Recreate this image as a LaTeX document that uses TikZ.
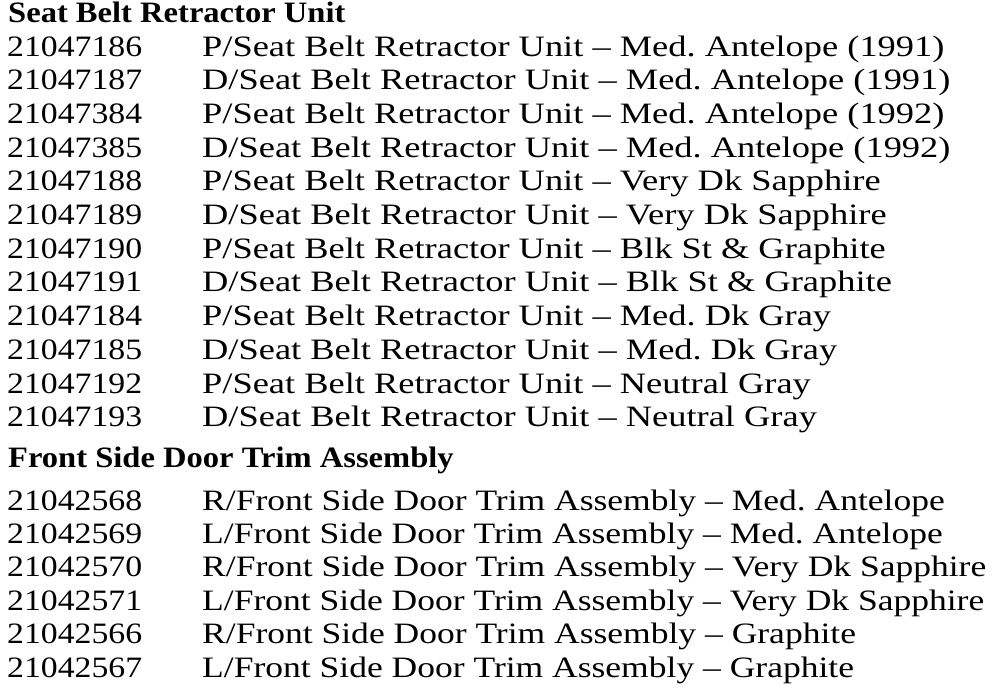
\documentclass[tikz,border=0pt]{standalone}
\usepackage{fontspec}
\setmainfont{Liberation Serif}[FakeStretch=1.14]
\newfontfamily\headfont{Liberation Serif}[FakeStretch=1.1,Ligatures=TeX]
\newfontfamily\beltfont{Liberation Serif}[FakeStretch=1.23,Ligatures=TeX]
\newfontfamily\doorfont{Liberation Serif}[FakeStretch=1.2,Ligatures=TeX]
\frenchspacing
\begin{document}
\begin{tikzpicture}[x=1pt,y=-1pt,
	head/.style={anchor=base west,inner sep=0pt,font=\fontsize{29.6}{30}\headfont\bfseries},
	partno/.style={anchor=base west,inner sep=0pt,font=\fontsize{29.6}{30}\selectfont},
	beltname/.style={anchor=base west,inner sep=0pt,font=\fontsize{29.6}{30}\beltfont},
	doorname/.style={anchor=base west,inner sep=0pt,font=\fontsize{29.6}{30}\doorfont}]
	\useasboundingbox[fill=white] (0,0) rectangle (1008,694);
	% Seat belt retractor units
	\node[head] (belt) at (8,22) {Seat Belt Retractor Unit};
	\node[partno] (b1) at (7,56) {21047186};
	\node[beltname] (bn1) at (202,56) {P/Seat Belt Retractor Unit -- Med. Antelope (1991)};
	\node[partno] (b2) at (7,89.7) {21047187};
	\node[beltname] (bn2) at (202,89.7) {D/Seat Belt Retractor Unit -- Med. Antelope (1991)};
	\node[partno] (b3) at (7,123.4) {21047384};
	\node[beltname] (bn3) at (202,123.4) {P/Seat Belt Retractor Unit -- Med. Antelope (1992)};
	\node[partno] (b4) at (7,157.1) {21047385};
	\node[beltname] (bn4) at (202,157.1) {D/Seat Belt Retractor Unit -- Med. Antelope (1992)};
	\node[partno] (b5) at (7,190.8) {21047188};
	\node[beltname] (bn5) at (202,190.8) {P/Seat Belt Retractor Unit -- Very Dk Sapphire};
	\node[partno] (b6) at (7,224.5) {21047189};
	\node[beltname] (bn6) at (202,224.5) {D/Seat Belt Retractor Unit -- Very Dk Sapphire};
	\node[partno] (b7) at (7,258.2) {21047190};
	\node[beltname] (bn7) at (202,258.2) {P/Seat Belt Retractor Unit -- Blk St \& Graphite};
	\node[partno] (b8) at (7,291.9) {21047191};
	\node[beltname] (bn8) at (202,291.9) {D/Seat Belt Retractor Unit -- Blk St \& Graphite};
	\node[partno] (b9) at (7,325.6) {21047184};
	\node[beltname] (bn9) at (202,325.6) {P/Seat Belt Retractor Unit -- Med. Dk Gray};
	\node[partno] (b10) at (7,359.3) {21047185};
	\node[beltname] (bn10) at (202,359.3) {D/Seat Belt Retractor Unit -- Med. Dk Gray};
	\node[partno] (b11) at (7,393) {21047192};
	\node[beltname] (bn11) at (202,393) {P/Seat Belt Retractor Unit -- Neutral Gray};
	\node[partno] (b12) at (7,426.7) {21047193};
	\node[beltname] (bn12) at (202,426.7) {D/Seat Belt Retractor Unit -- Neutral Gray};
	% Front side door trim assemblies
	\node[head] (door) at (8,467) {Front Side Door Trim Assembly};
	\node[partno] (d1) at (7,510) {21042568};
	\node[doorname] (dn1) at (202,510) {R/Front Side Door Trim Assembly -- Med. Antelope};
	\node[partno] (d2) at (7,543.4) {21042569};
	\node[doorname] (dn2) at (202,543.4) {L/Front Side Door Trim Assembly -- Med. Antelope};
	\node[partno] (d3) at (7,576.8) {21042570};
	\node[doorname] (dn3) at (202,576.8) {R/Front Side Door Trim Assembly -- Very Dk Sapphire};
	\node[partno] (d4) at (7,610.2) {21042571};
	\node[doorname] (dn4) at (202,610.2) {L/Front Side Door Trim Assembly -- Very Dk Sapphire};
	\node[partno] (d5) at (7,643.6) {21042566};
	\node[doorname] (dn5) at (202,643.6) {R/Front Side Door Trim Assembly -- Graphite};
	\node[partno] (d6) at (7,677) {21042567};
	\node[doorname] (dn6) at (202,677) {L/Front Side Door Trim Assembly -- Graphite};
\end{tikzpicture}
\end{document}
